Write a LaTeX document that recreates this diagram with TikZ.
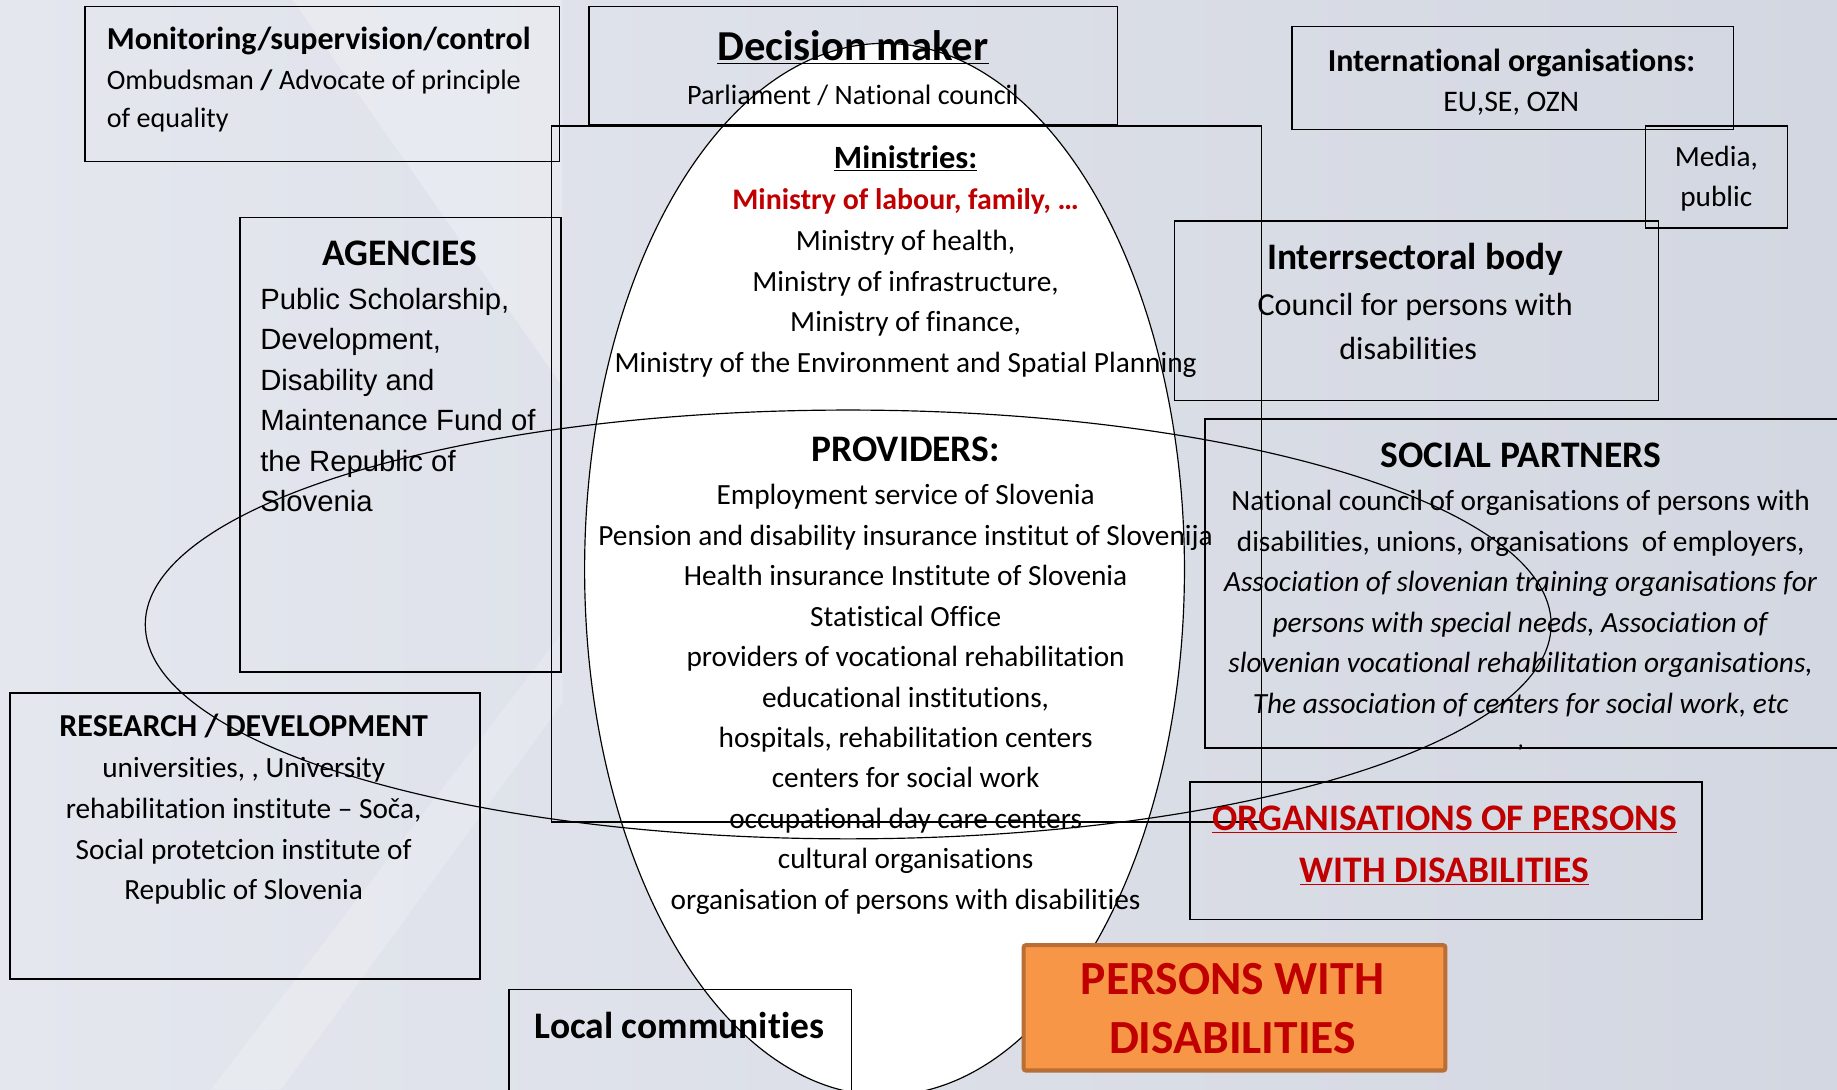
\documentclass[tikz,border=0pt]{standalone}
\usepackage{fontspec}
\setmainfont{Carlito}[Ligatures=NoCommon]
\newfontfamily\agencyfont{Liberation Sans}
\definecolor{bgcol}{RGB}{211,215,225}
\definecolor{bglight}{RGB}{228,231,238}
\definecolor{redtxt}{RGB}{192,0,0}
\definecolor{orangefill}{RGB}{247,150,70}
\definecolor{orangeline}{RGB}{184,110,52}

\begin{document}
\begin{tikzpicture}[x=1pt,y=-1pt,
  box/.style={draw=black,line width=1.3pt,inner sep=0pt,anchor=north west},
  body/.style={anchor=base,inner sep=0pt,font=\fontsize{25}{28}\selectfont},
  head/.style={anchor=base,inner sep=0pt,font=\fontsize{32}{36}\selectfont\bfseries},
  subhead/.style={head,font=\fontsize{27.3}{30}\selectfont\bfseries}]
  \useasboundingbox (0,0) rectangle (1568,930);
  % Background
  \shade[left color=bglight,right color=bgcol] (0,0) rectangle (1568,930);
  \fill[white,opacity=0.25] (250,0) -- (480,0) -- (480,330) -- cycle;
  \fill[white,opacity=0.2] (180,930) -- (240,930) -- (480,600) -- (480,540) -- cycle;
  % Vertical ellipse
  \draw[fill=white,line width=1pt] (755,486) ellipse [x radius=256,y radius=449];
  % Boxes
  \node[box,minimum width=405,minimum height=132] (monbox) at (72,5) {};
  \node[box,minimum width=451,minimum height=101] (decbox) at (502,5) {};
  \node[box,minimum width=606,minimum height=594] (minbox) at (470,107) {};
  \node[box,minimum width=274,minimum height=388] (agbox) at (204,185) {};
  \node[box,minimum width=401,minimum height=244] (resbox) at (8,591) {};
  \node[box,minimum width=292,minimum height=100] (locbox) at (434,844) {};
  \node[box,minimum width=377,minimum height=88] (intbox) at (1102,22) {};
  \node[box,minimum width=121,minimum height=87] (medbox) at (1404,107) {};
  \node[box,minimum width=413,minimum height=153] (isbox) at (1002,188) {};
  \node[box,minimum width=547,minimum height=281] (socbox) at (1028,357) {};
  \node[box,minimum width=437,minimum height=117] (orgbox) at (1015,667) {};
  % Monitoring
  \node[subhead,anchor=base west] (montitle) at (91,42) {Monitoring/supervision/control};
  \node[body,anchor=base west,font=\fontsize{24}{28}\selectfont] (mon1) at (91,76) {Ombudsman \textbf{/} Advocate of principle};
  \node[body,anchor=base west,font=\fontsize{24}{28}\selectfont] (mon2) at (91,109) {of equality};
  % Decision maker
  \node[head,font=\fontsize{36.4}{40}\selectfont\bfseries] (dectitle) at (728,52) {\underline{Decision maker}};
  \node[body,font=\fontsize{24}{28}\selectfont] (dec1) at (728,89) {Parliament / National council};
  % Ministries
  \node[head,font=\fontsize{27.7}{30}\selectfont\bfseries] (mintitle) at (773,144) {\underline{Ministries:}};
  \node[body,text=redtxt,font=\fontsize{25.5}{28}\selectfont\bfseries] (min0) at (773,179) {Ministry of labour, family, …};
  \foreach \entry [count=\i] in {{Ministry of health,},{Ministry of infrastructure,},{Ministry of finance,},Ministry of the Environment and Spatial Planning}
    \node[body] (min\i) at (773,{179+34.7*\i}) {\entry};
  % Providers
  \node[head] (provtitle) at (773,394) {PROVIDERS:};
  \foreach \entry [count=\i from 0] in {Employment service of Slovenia,Pension and disability insurance institut of Slovenija,Health insurance Institute of Slovenia,Statistical Office,providers of vocational rehabilitation,{educational institutions,},{hospitals, rehabilitation centers},centers for social work,occupational day care centers,cultural organisations,organisation of persons with disabilities}
    \node[body] (prov\i) at (773,{431+34.5*\i}) {\entry};
  % Agencies
  \node[head] (agtitle) at (341,227) {AGENCIES};
  \foreach \entry [count=\i from 0] in {{Public Scholarship,},{Development,},Disability and,Maintenance Fund of,the Republic of,Slovenia}
    \node[body,anchor=base west,font=\fontsize{25}{28}\agencyfont] (ag\i) at (222,{264+34.6*\i}) {\entry};
  % Research
  \node[subhead] (restitle) at (208,629) {RESEARCH / DEVELOPMENT};
  \foreach \entry [count=\i from 0] in {{universities, , University},{rehabilitation institute – Soča,},Social protetcion institute of,Republic of Slovenia}
    \node[body] (res\i) at (208,{664+34.6*\i}) {\entry};
  % Local communities
  \node[head] (loctitle) at (580,886) {Local communities};
  % International
  \node[subhead] (inttitle) at (1290,61) {International organisations:};
  \node[body,font=\fontsize{25.5}{28}\selectfont] (int1) at (1290,95) {EU,SE, OZN};
  % Media
  \node[body] (med1) at (1465,142) {Media,};
  \node[body] (med2) at (1465,176) {public};
  % Intersectoral body
  \node[head] (istitle) at (1208,230) {Interrsectoral body};
  \node[body,font=\fontsize{27.4}{30}\selectfont] (is1) at (1208,269) {Council for persons with};
  \node[body,font=\fontsize{27.4}{30}\selectfont] (is2) at (1202,307) {disabilities};
  % Social partners
  \node[head] (soctitle) at (1298,399) {SOCIAL PARTNERS};
  \foreach \entry [count=\i from 0] in {National council of organisations of persons with,{disabilities, unions, organisations\ \ of employers,},\textit{Association of slovenian training organisations for},{\textit{persons with special needs, Association of}},{\textit{slovenian vocational rehabilitation organisations,}},{\textit{The association of centers for social work, etc}}}
    \node[body] (soc\i) at (1298,{436+34.6*\i}) {\entry};
  \node[body,font=\fontsize{20}{22}\selectfont] (socmark) at (1298,638) {,};
  % Organisations of persons with disabilities
  \node[head,text=redtxt] (org1) at (1233,709) {\underline{ORGANISATIONS OF PERSONS}};
  \node[head,text=redtxt] (org2) at (1233,753) {\underline{WITH DISABILITIES}};
  % Horizontal ellipse
  \draw[line width=1pt] (724,533) ellipse [x radius=600,y radius=183];
  % Persons with disabilities
  \node[box,fill=orangefill,draw=orangeline,line width=3.5pt,rounded corners=2pt,minimum width=360,minimum height=107] (perbox) at (872,805) {};
  \node[head,text=redtxt,font=\fontsize{40.6}{44}\selectfont\bfseries] (per1) at (1052,849) {PERSONS WITH};
  \node[head,text=redtxt,font=\fontsize{40.6}{44}\selectfont\bfseries] (per2) at (1052,899) {DISABILITIES};
\end{tikzpicture}
\end{document}
